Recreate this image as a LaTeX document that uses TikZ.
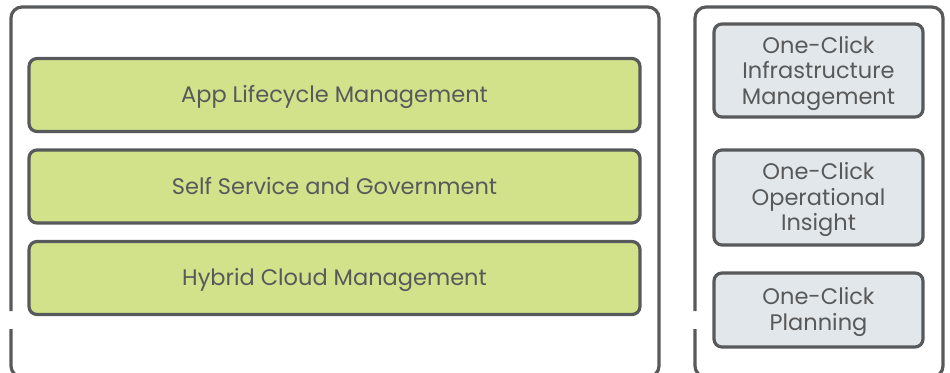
\documentclass[tikz,border=0pt]{standalone}
\usepackage{fontspec}
\setmainfont{Poppins}
\definecolor{edge}{HTML}{58595B}
\definecolor{greenfill}{HTML}{D1E28A}
\definecolor{grayfill}{HTML}{E1E7EA}
\definecolor{txt}{HTML}{58595B}
\tikzset{
  frame/.style={draw=edge, line width=3.2pt, rounded corners=11pt},
  layerbox/.style={draw=edge, line width=3.2pt, rounded corners=8pt, fill=greenfill,
    text=txt, font=\fontsize{22.5}{25.5}\selectfont, text height=15.7pt, text depth=0pt,
    minimum width=611pt, minimum height=73pt},
  clickbox/.style={draw=edge, line width=3.2pt, rounded corners=8pt, fill=grayfill,
    text=txt, font=\fontsize{22.5}{25.5}\selectfont, align=center, minimum width=209pt},
  clicktext/.style={text=txt, font=\fontsize{22.5}{25.5}\selectfont, align=center},
}
\begin{document}
\begin{tikzpicture}[x=1pt,y=-1pt]
\useasboundingbox (0,0) rectangle (950,372);
% outer frames (open on the left side)
\draw[frame] (11,311) -- (11,7) -- (659,7) -- (659,377) -- (11,377) -- (11,329);
\draw[frame] (695,311) -- (695,7) -- (943,7) -- (943,377) -- (695,377) -- (695,329);
% left layers
\node[layerbox] (alm) at (334.5,95) {App Lifecycle Management};
\node[layerbox] (ssg) at (334.5,186.5) {Self Service and Government};
\node[layerbox] (hcm) at (334.5,278) {Hybrid Cloud Management};
% right boxes
\node[clickbox, minimum height=93pt] (oci) at (818.5,70.5) {};
\node[clicktext] (ocit) at (818.5,73) {One-Click\\Infrastructure\\Management};
\node[clickbox, minimum height=95pt] (oco) at (818.5,197.5) {};
\node[clicktext] (ocot) at (818.5,199.5) {One-Click\\Operational\\Insight};
\node[clickbox, minimum height=74pt] (ocp) at (818.5,310) {};
\node[clicktext] (ocpt) at (818.5,312) {One-Click\\Planning};
\end{tikzpicture}
\end{document}
